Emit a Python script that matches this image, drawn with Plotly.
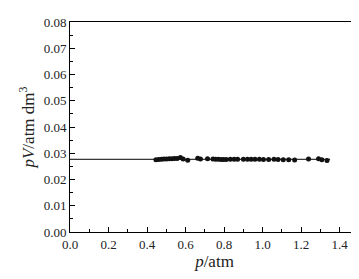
import plotly.graph_objects as go

p = [0.446, 0.460, 0.474, 0.487, 0.501, 0.515, 0.529, 0.542, 0.556, 0.573,
     0.587, 0.611, 0.663, 0.677, 0.714, 0.742, 0.756, 0.770, 0.784, 0.797,
     0.811, 0.832, 0.852, 0.870, 0.900, 0.921, 0.940, 0.960, 0.983, 1.004,
     1.031, 1.059, 1.080, 1.107, 1.135, 1.166, 1.238, 1.290, 1.307, 1.334]
pV = [0.0275, 0.0276, 0.0277, 0.0278, 0.0278, 0.0279, 0.0279, 0.0280, 0.0280, 0.0284,
      0.0278, 0.0273, 0.0281, 0.0278, 0.0279, 0.0278, 0.0277, 0.0277, 0.0276, 0.0276,
      0.0276, 0.0277, 0.0277, 0.0277, 0.0277, 0.0277, 0.0277, 0.0277, 0.0277, 0.0276,
      0.0276, 0.0277, 0.0276, 0.0275, 0.0275, 0.0274, 0.0278, 0.0279, 0.0275, 0.0272]
fit_p = [0.0, 1.35]
fit_pV = [0.0277, 0.0277]

serif = 'Liberation Serif, Times New Roman, serif'

fig = go.Figure()
fig.add_trace(go.Scatter(x=fit_p, y=fit_pV, mode='lines',
                         line=dict(color='black', width=1), showlegend=False))
fig.add_trace(go.Scatter(x=p, y=pV, mode='markers',
                         marker=dict(color='#111111', size=5), showlegend=False))

axis_common = dict(showline=True, linecolor='black', linewidth=1, mirror=True,
                   ticks='inside', ticklen=5, tickcolor='black', showgrid=False,
                   zeroline=False, tickfont=dict(family=serif, size=13, color='#222'))

fig.update_xaxes(range=[0, 1.5], dtick=0.2, tick0=0, tickformat='.1f',
                 minor=dict(ticks='inside', ticklen=3, dtick=0.1, tickcolor='black'),
                 title=dict(text='<i>p</i>/atm', font=dict(family=serif, size=17, color='#222'),
                            standoff=4),
                 **axis_common)
fig.update_yaxes(range=[0, 0.08], dtick=0.01, tick0=0, tickformat='.2f',
                 minor=dict(ticks='inside', ticklen=3, dtick=0.005, tickcolor='black'),
                 title=dict(text='<i>pV</i>/atm dm<sup>3</sup>', font=dict(family=serif, size=17, color='#222'),
                            standoff=4),
                 **axis_common)

fig.update_layout(width=359, height=279, margin=dict(l=62, r=7, t=12, b=55),
                  plot_bgcolor='white', paper_bgcolor='white',
                  font=dict(family=serif))

fig.write_html("out.html")
